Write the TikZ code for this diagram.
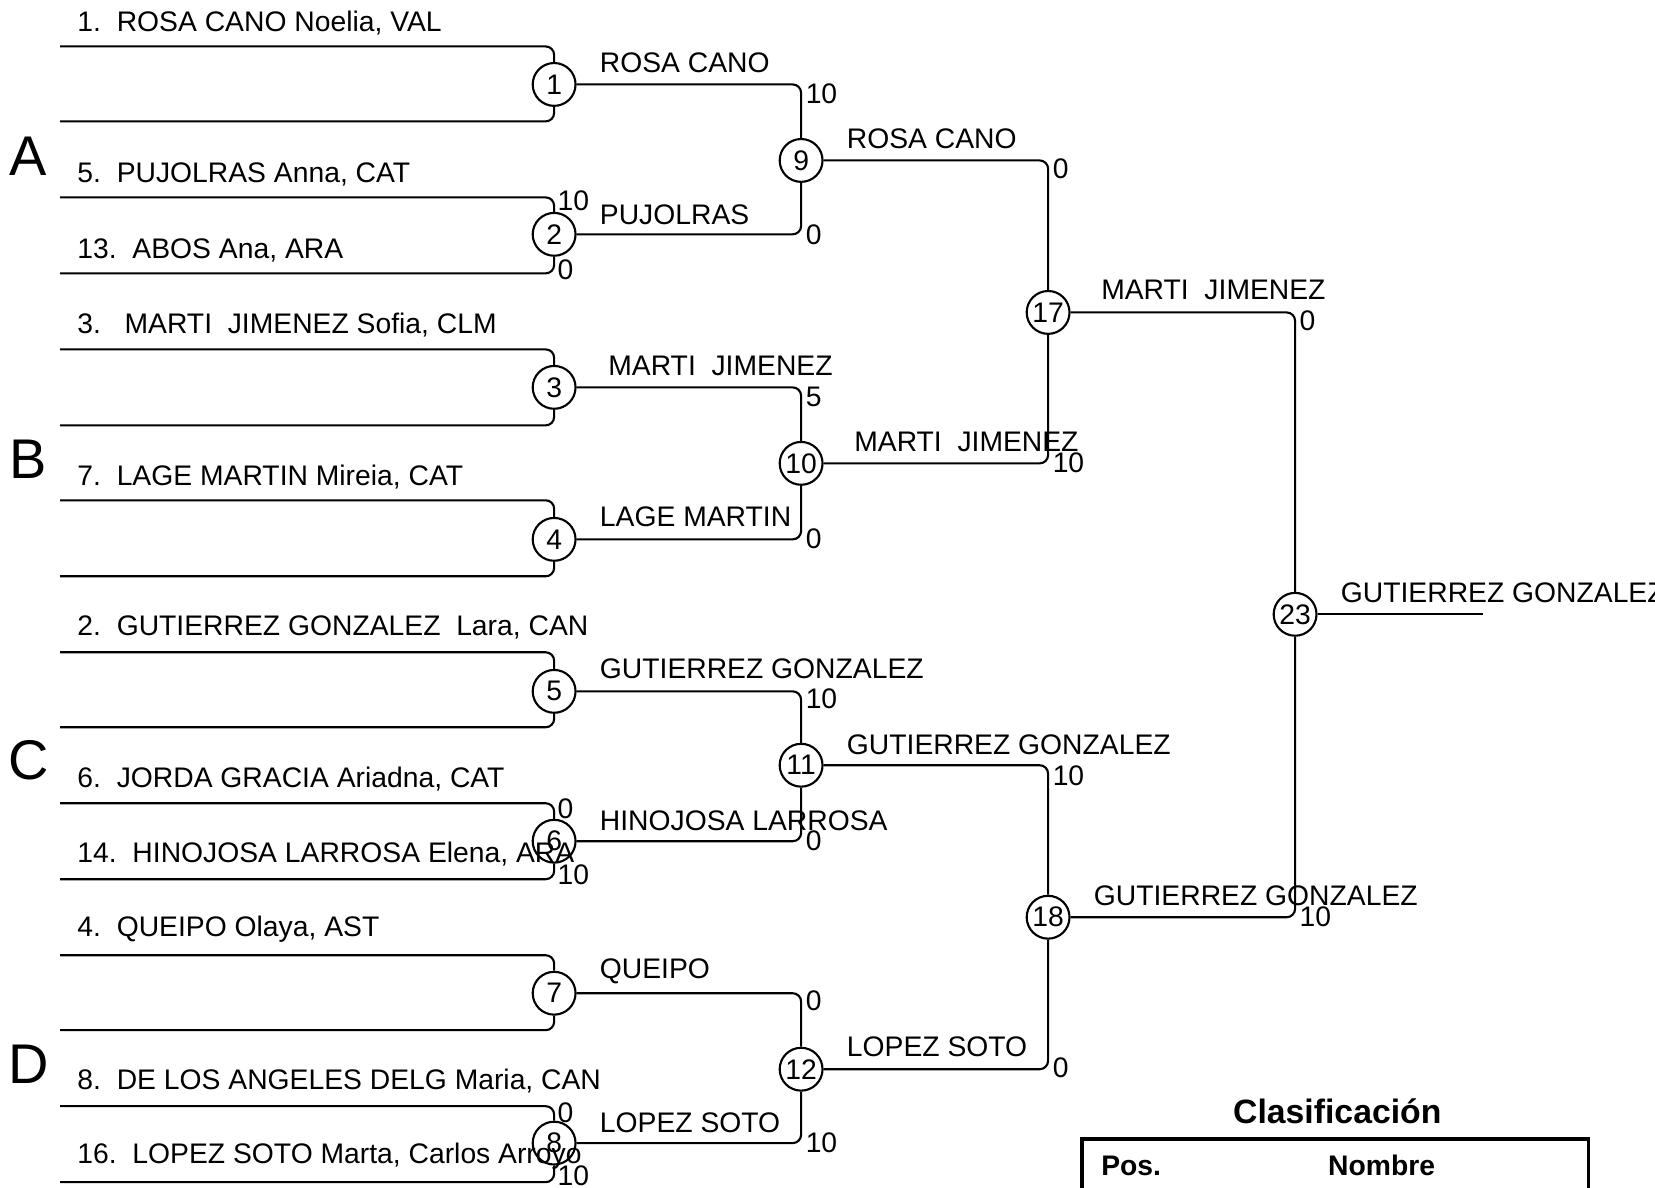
\documentclass[tikz,border=0pt]{standalone}
\usepackage{fontspec}
\setmainfont{Liberation Sans}
\begin{document}
\begin{tikzpicture}[x=0.5pt,y=-0.5pt,
  font=\fontsize{13.4}{16}\selectfont,
  conn/.style={line width=1pt, rounded corners=4pt},
  match/.style={circle, draw, line width=1pt, minimum size=20.3pt, inner sep=0pt},
  lbl/.style={anchor=base west, inner sep=0pt},
  score/.style={anchor=west, inner sep=0pt},
  group/.style={font=\fontsize{26.5}{30}\selectfont, inner sep=0pt}]
\useasboundingbox (0,0) rectangle (1568,1125);

% seed line free ends
\foreach \i/\y in {1/44,2/115,3/187,4/259,5/331,6/403,7/474,8/546,9/618,10/689,11/761,12/833,13/905,14/976,15/1048,16/1120}
  \coordinate (s\i) at (57,\y);

% match circles
\node[match] (m1) at (525,80) {1};
\node[match] (m2) at (525,222) {2};
\node[match] (m3) at (525,367) {3};
\node[match] (m4) at (525,511) {4};
\node[match] (m5) at (525,655) {5};
\node[match] (m6) at (525,797) {6};
\node[match] (m7) at (525,941) {7};
\node[match] (m8) at (525,1083) {8};
\node[match] (m9) at (759,152) {9};
\node[match] (m10) at (759,439) {10};
\node[match] (m11) at (759,725) {11};
\node[match] (m12) at (759,1013) {12};
\node[match] (m17) at (993,296) {17};
\node[match] (m18) at (993,869) {18};
\node[match] (m23) at (1227,582) {23};
\coordinate (fin) at (1405,582);

% connectors
\foreach \a/\b in {s1/m1,s2/m1,s3/m2,s4/m2,s5/m3,s6/m3,s7/m4,s8/m4,s9/m5,s10/m5,s11/m6,s12/m6,s13/m7,s14/m7,s15/m8,s16/m8,
  m1/m9,m2/m9,m3/m10,m4/m10,m5/m11,m6/m11,m7/m12,m8/m12,m9/m17,m10/m17,m11/m18,m12/m18,m17/m23,m18/m23}
  \draw[conn] (\a) -| (\b);
\draw[conn] (m23) -- (fin);

% group letters
\node[group] (gA) at (27,148) {A};
\node[group] (gB) at (27,435) {B};
\node[group] (gC) at (27,720) {C};
\node[group] (gD) at (27,1008) {D};

% seed names
\node[lbl] (n1) at (73,29.5) {1.\ \ ROSA CANO Noelia, VAL};
\node[lbl] (n5) at (73,172.5) {5.\ \ PUJOLRAS Anna, CAT};
\node[lbl] (n13) at (73,244.5) {13.\ \ ABOS Ana, ARA};
\node[lbl] (n3) at (73,315.5) {3.\ \ \ MARTI\ \ JIMENEZ Sofia, CLM};
\node[lbl] (n7) at (73,459.5) {7.\ \ LAGE MARTIN Mireia, CAT};
\node[lbl] (n2) at (73,602.5) {2.\ \ GUTIERREZ GONZALEZ\ \ Lara, CAN};
\node[lbl] (n6) at (73,746.5) {6.\ \ JORDA GRACIA Ariadna, CAT};
\node[lbl] (n14) at (73,817.5) {14.\ \ HINOJOSA LARROSA Elena, ARA};
\node[lbl] (n4) at (73,887.5) {4.\ \ QUEIPO Olaya, AST};
\node[lbl] (n8) at (73,1032.5) {8.\ \ DE LOS ANGELES DELG Maria, CAN};
\node[lbl] (n16) at (73,1102.5) {16.\ \ LOPEZ SOTO Marta, Carlos Arroyo};

% winners round 2
\node[lbl] (w1) at (568,68.5) {ROSA CANO};
\node[lbl] (w2) at (568,212.5) {PUJOLRAS};
\node[lbl] (w3) at (576,355.5) {MARTI\ \ JIMENEZ};
\node[lbl] (w4) at (568,498.5) {LAGE MARTIN};
\node[lbl] (w5) at (568,642.5) {GUTIERREZ GONZALEZ};
\node[lbl] (w6) at (568,786.5) {HINOJOSA LARROSA};
\node[lbl] (w7) at (568,927.5) {QUEIPO};
\node[lbl] (w8) at (568,1072.5) {LOPEZ SOTO};
% round 3
\node[lbl] (w9) at (802,140.5) {ROSA CANO};
\node[lbl] (w10) at (809,427.5) {MARTI\ \ JIMENEZ};
\node[lbl] (w11) at (802,714.5) {GUTIERREZ GONZALEZ};
\node[lbl] (w12) at (802,1000.5) {LOPEZ SOTO};
% round 4
\node[lbl] (w17) at (1043,283.5) {MARTI\ \ JIMENEZ};
\node[lbl] (w18) at (1036,857.5) {GUTIERREZ GONZALEZ};
% final
\node[lbl] (w23) at (1270,570.5) {GUTIERREZ GONZALEZ};

% scores
\node[score] (c2a) at (528,190) {10};
\node[score] (c2b) at (528,256) {0};
\node[score] (c6a) at (528,766) {0};
\node[score] (c6b) at (528,829) {10};
\node[score] (c8a) at (528,1054) {0};
\node[score] (c8b) at (528,1114) {10};
\node[score] (c9a) at (763,89) {10};
\node[score] (c9b) at (763,222) {0};
\node[score] (c10a) at (763,376) {5};
\node[score] (c10b) at (763,510) {0};
\node[score] (c11a) at (763,662) {10};
\node[score] (c11b) at (763,797) {0};
\node[score] (c12a) at (763,948) {0};
\node[score] (c12b) at (763,1083) {10};
\node[score] (c17a) at (997,160) {0};
\node[score] (c17b) at (997,438) {10};
\node[score] (c18a) at (997,735) {10};
\node[score] (c18b) at (997,1012) {0};
\node[score] (c23a) at (1231,304) {0};
\node[score] (c23b) at (1231,869) {10};

% classification table
\node[font=\fontsize{16}{19}\selectfont\bfseries, inner sep=0pt] (ctitle) at (1267,1053) {Clasificación};
\draw[line width=1.6pt] (1025,1140) |- (1505,1079) -- (1505,1140);
\node[lbl, font=\fontsize{13.4}{16}\selectfont\bfseries] (cpos) at (1043,1113.5) {Pos.};
\node[anchor=base, inner sep=0pt, font=\fontsize{13.4}{16}\selectfont\bfseries] (cnom) at (1309,1113.5) {Nombre};
\end{tikzpicture}
\end{document}
